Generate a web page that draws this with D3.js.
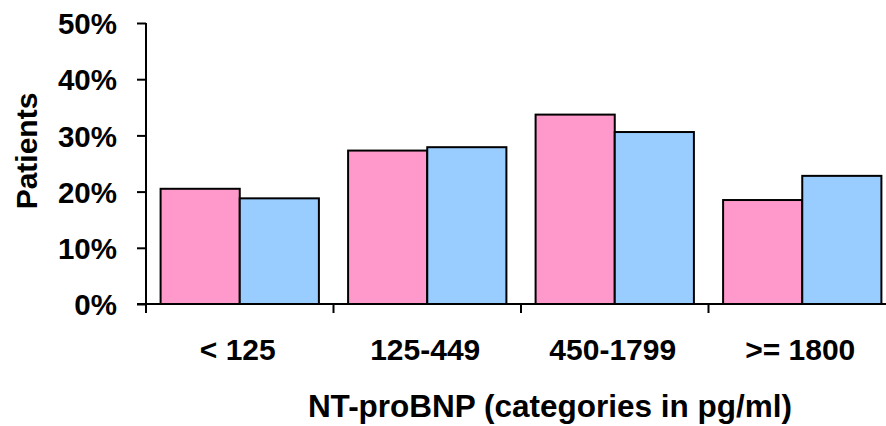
<!DOCTYPE html>
<html>
<head>
<meta charset="utf-8">
<script src="https://cdn.jsdelivr.net/npm/d3@7"></script>
<style>
  html, body { margin: 0; padding: 0; background: #fff; }
  svg { display: block; }
  text { font-family: "Liberation Sans", Arial, sans-serif; font-weight: bold; fill: #000; }
</style>
</head>
<body>
<svg id="chart" width="886" height="426"></svg>
<script>
const categories = ["< 125", "125-449", "450-1799", ">= 1800"];
const seriesNames = ["Group A", "Group B"];
const seriesA = [20.5, 27.3, 33.7, 18.5];
const seriesB = [18.8, 27.9, 30.6, 22.8];
const yTicks = [0, 10, 20, 30, 40, 50];
const colors = ["#FF99CC", "#99CCFF"];

const svg = d3.select("#chart");
const mLeft = 146, mBottom = 304, mTop = 23, bandW = 187.5;
const mRight = mLeft + bandW * categories.length;

const x = d3.scaleBand().domain(categories).range([mLeft, mRight]).padding(0);
const x1 = d3.scaleBand().domain(seriesNames).range([14.6, bandW - 14.6]).padding(0);
const y = d3.scaleLinear().domain([0, 50]).range([mBottom, mTop]);

const data = categories.map((c, i) => ({ cat: c, vals: [seriesA[i], seriesB[i]] }));

// bars
const g = svg.append("g");
data.forEach(d => {
  d.vals.forEach((v, j) => {
    g.append("rect")
      .attr("x", x(d.cat) + x1(seriesNames[j]))
      .attr("y", y(v))
      .attr("width", x1.bandwidth())
      .attr("height", y(0) - y(v))
      .attr("fill", colors[j])
      .attr("stroke", "#000")
      .attr("stroke-width", 2);
  });
});

// y axis
const yAxis = d3.axisLeft(y).tickValues(yTicks).tickFormat(d => d + "%").tickSize(9).tickPadding(20);
const ya = svg.append("g").attr("transform", `translate(${mLeft},0)`).call(yAxis);
ya.select(".domain").remove();
ya.selectAll(".tick line").attr("stroke", "#000").attr("stroke-width", 2);
ya.selectAll(".tick text").attr("font-size", 29.5).attr("font-family", "Liberation Sans, Arial, sans-serif").attr("font-weight", "bold").attr("fill", "#000").attr("dy", "0.36em");
ya.append("line").attr("x1", 0).attr("x2", 0).attr("y1", mTop).attr("y2", mBottom + 9).attr("stroke", "#000").attr("stroke-width", 2);

// x axis
svg.append("line").attr("x1", mLeft - 9).attr("x2", 886).attr("y1", mBottom).attr("y2", mBottom).attr("stroke", "#000").attr("stroke-width", 2);
const boundaries = categories.slice(1).map(c => x(c));
svg.selectAll(".xtick").data(boundaries).enter().append("line")
  .attr("x1", d => d).attr("x2", d => d).attr("y1", mBottom).attr("y2", mBottom + 9)
  .attr("stroke", "#000").attr("stroke-width", 2);
svg.selectAll(".xlab").data(categories).enter().append("text")
  .attr("x", d => x(d) + bandW / 2 - 2)
  .attr("y", 360)
  .attr("text-anchor", "middle")
  .attr("font-size", 30)
  .text(d => d);

// titles
svg.append("text").attr("x", 550).attr("y", 417).attr("text-anchor", "middle").attr("font-size", 31.5)
  .text("NT-proBNP (categories in pg/ml)");
svg.append("text").attr("transform", "translate(37,151) rotate(-90)").attr("text-anchor", "middle").attr("font-size", 30)
  .text("Patients");
</script>
</body>
</html>
